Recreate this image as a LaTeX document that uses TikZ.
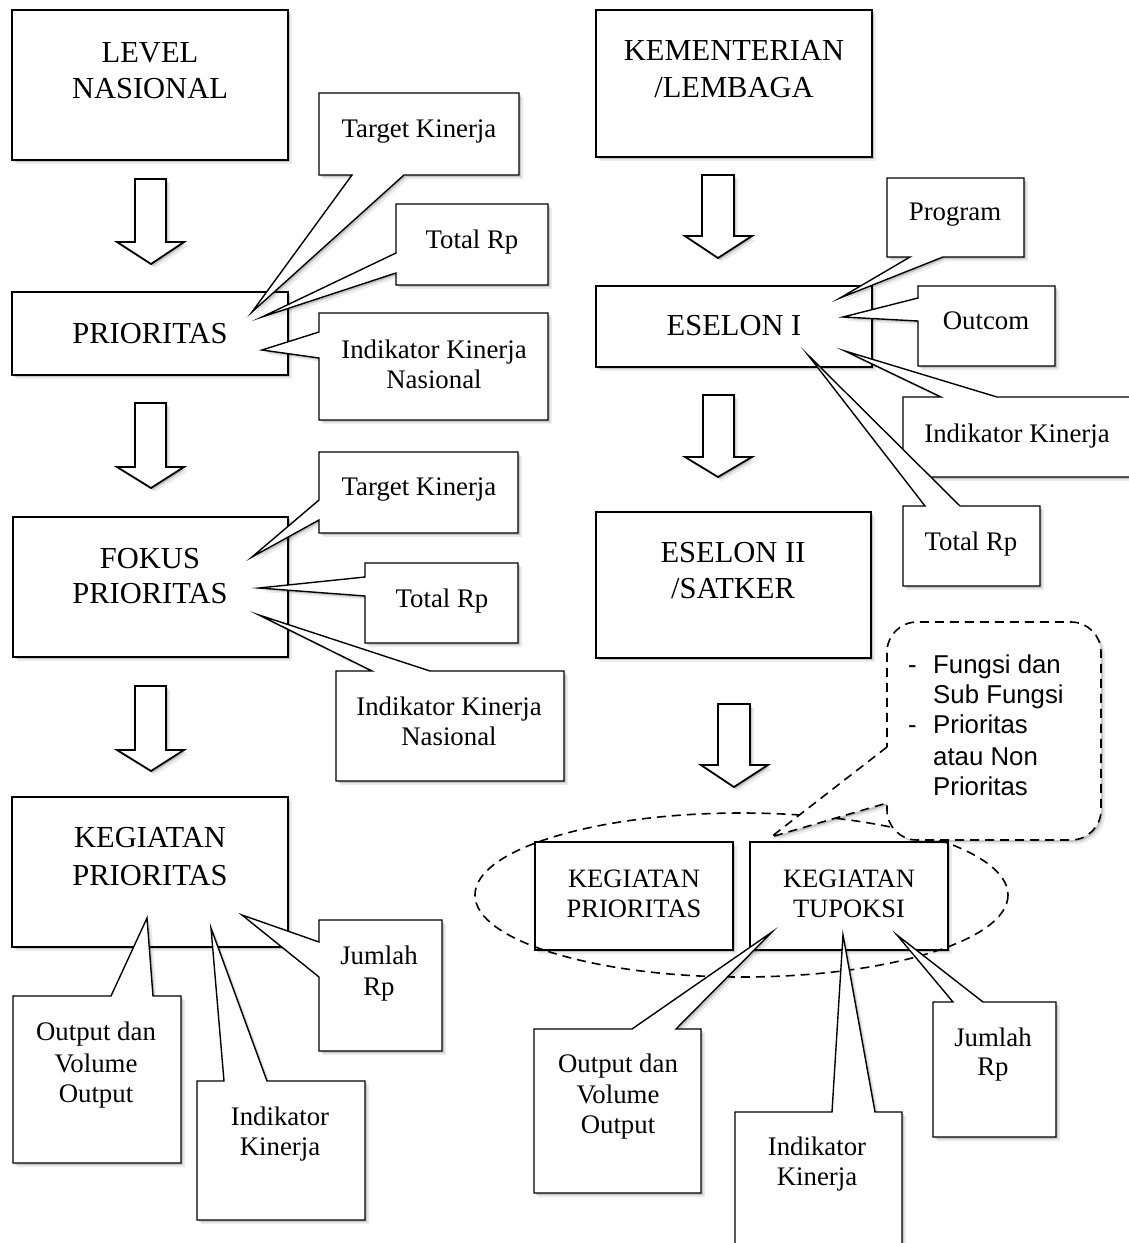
\documentclass[tikz,border=0pt]{standalone}
\usepackage{fontspec}
\setmainfont{Liberation Serif}
\newfontfamily\calsans{Liberation Sans}
\usetikzlibrary{shadows}
\newcommand{\txtline}[4]{\node[#1] (#2) at (#3) {#4};}
\begin{document}
\begin{tikzpicture}[x=1pt,y=-1pt,
  shad/.style={drop shadow={shadow xshift=4pt,shadow yshift=-4pt,opacity=0.08,fill=black},
               drop shadow={shadow xshift=2pt,shadow yshift=-2pt,opacity=0.16,fill=black}},
  mainbox/.style={draw=black,fill=white,line width=1.8pt,shad},
  callout/.style={draw=black,fill=white,line width=1.4pt,line join=miter,miter limit=20,shad},
  blockarrow/.style={draw=black,fill=white,line width=1.8pt,line join=miter,shad},
  bigtxt/.style={font=\fontsize{30.5}{36}\selectfont,inner sep=0pt,anchor=base},
  midtxt/.style={font=\fontsize{26.5}{32}\selectfont,inner sep=0pt,anchor=base},
  smalltxt/.style={font=\fontsize{26.8}{30}\selectfont,inner sep=0pt,anchor=base},
  sanstxt/.style={font=\calsans\fontsize{25.8}{30}\selectfont,inner sep=0pt,anchor=base west},
  dashbox/.style={draw=black,fill=white,line width=1.6pt,dash pattern=on 9pt off 6pt,shad},
  ell/.style={draw=black,line width=1.6pt,dash pattern=on 9pt off 6pt}
]
\path[use as bounding box] (0,0) rectangle (1129,1243);
\clip (0,0) rectangle (1129,1243);
\fill[white] (0,0) rectangle (1129,1243);

% ---------------- LEFT COLUMN ----------------
\draw[mainbox] (12,10) rectangle (288,160);
\txtline{bigtxt}{lv1}{150,62}{LEVEL}
\txtline{bigtxt}{lv2}{150,98}{NASIONAL}

\draw[blockarrow] (135,179) -- (166,179) -- (166,242) -- (184,242) -- (151,264) -- (117,242) -- (135,242) -- cycle;

\draw[mainbox] (12,292) rectangle (288,375);
\txtline{bigtxt}{pr1}{150,343}{PRIORITAS}

% callouts for PRIORITAS
\draw[callout] (319,93) -- (519,93) -- (519,175) -- (404,175) -- (252,312) -- (352,175) -- (319,175) -- cycle;
\txtline{smalltxt}{tk1}{419,137}{Target Kinerja}

\draw[callout] (396,204) -- (548,204) -- (548,285) -- (396,285) -- (396,273) -- (262,317) -- (396,253) -- cycle;
\txtline{smalltxt}{tr1}{472,248}{Total Rp}

\draw[callout] (319,313) -- (548,313) -- (548,420) -- (319,420) -- (319,358) -- (262,350) -- (319,332) -- cycle;
\txtline{smalltxt}{ikn1a}{434,358}{Indikator Kinerja}
\txtline{smalltxt}{ikn1b}{434,388}{Nasional}

\draw[blockarrow] (135,403) -- (166,403) -- (166,467) -- (184,467) -- (151,488) -- (117,467) -- (135,467) -- cycle;

\draw[mainbox] (13,517) rectangle (288,657);
\txtline{bigtxt}{fk1}{150,568}{FOKUS}
\txtline{bigtxt}{fk2}{150,603}{PRIORITAS}

\draw[callout] (319,452) -- (518,452) -- (518,533) -- (319,533) -- (319,520) -- (252,557) -- (319,500) -- cycle;
\txtline{smalltxt}{tk2}{419,495}{Target Kinerja}

\draw[callout] (365,563) -- (518,563) -- (518,643) -- (365,643) -- (365,596) -- (259,588) -- (365,577) -- cycle;
\txtline{smalltxt}{tr2}{442,607}{Total Rp}

\draw[callout] (336,671) -- (372,671) -- (259,615) -- (430,671) -- (564,671) -- (564,781) -- (336,781) -- cycle;
\txtline{smalltxt}{ikn2a}{449,715}{Indikator Kinerja}
\txtline{smalltxt}{ikn2b}{449,745}{Nasional}

\draw[blockarrow] (135,686) -- (166,686) -- (166,750) -- (184,750) -- (151,771) -- (117,750) -- (135,750) -- cycle;

\draw[mainbox] (12,797) rectangle (288,947);
\txtline{bigtxt}{kg1}{150,847}{KEGIATAN}
\txtline{bigtxt}{kg2}{150,885}{PRIORITAS}

\draw[callout] (319,920) -- (442,920) -- (442,1051) -- (319,1051) -- (319,977) -- (242,915) -- (319,942) -- cycle;
\txtline{smalltxt}{jr1a}{379,964}{Jumlah}
\txtline{smalltxt}{jr1b}{379,995}{Rp}

\draw[callout] (13,996) -- (111,996) -- (147,918) -- (153,996) -- (181,996) -- (181,1163) -- (13,1163) -- cycle;
\txtline{smalltxt}{ou1a}{96,1040}{Output dan}
\txtline{smalltxt}{ou1b}{96,1072}{Volume}
\txtline{smalltxt}{ou1c}{96,1102}{Output}

\draw[callout] (197,1081) -- (224,1081) -- (211,928) -- (267,1081) -- (365,1081) -- (365,1220) -- (197,1220) -- cycle;
\txtline{smalltxt}{ik1a}{280,1125}{Indikator}
\txtline{smalltxt}{ik1b}{280,1155}{Kinerja}

% ---------------- RIGHT COLUMN ----------------
\draw[mainbox] (596,10) rectangle (872,157);
\txtline{bigtxt}{km1}{734,60}{KEMENTERIAN}
\txtline{bigtxt}{km2}{734,97}{/LEMBAGA}

\draw[blockarrow] (702,175) -- (734,175) -- (734,236) -- (752,236) -- (718,258) -- (685,236) -- (702,236) -- cycle;

\draw[mainbox] (596,286) rectangle (872,367);
\txtline{bigtxt}{es1}{734,335}{ESELON I}

\draw[callout] (887,178) -- (1024,178) -- (1024,257) -- (943,257) -- (840,298) -- (910,257) -- (887,257) -- cycle;
\txtline{smalltxt}{prg}{955,220}{Program}

\draw[callout] (918,286) -- (1055,286) -- (1055,366) -- (918,366) -- (918,321) -- (843,317) -- (918,298) -- cycle;
\txtline{smalltxt}{otc}{986,329}{Outcom}

\draw[callout] (903,397) -- (941,397) -- (845,351) -- (997,397) -- (1140,397) -- (1140,477) -- (903,477) -- cycle;
\txtline{smalltxt}{ikr}{1017,442}{Indikator Kinerja}

\draw[callout] (903,506) -- (925,506) -- (808,355) -- (960,506) -- (1040,506) -- (1040,586) -- (903,586) -- cycle;
\txtline{smalltxt}{trr}{971,550}{Total Rp}

\draw[blockarrow] (703,395) -- (734,395) -- (734,457) -- (752,457) -- (718,477) -- (685,457) -- (703,457) -- cycle;

\draw[mainbox] (596,512) rectangle (871,658);
\txtline{bigtxt}{es2a}{733,562}{ESELON II}
\txtline{bigtxt}{es2b}{733,598}{/SATKER}

\draw[blockarrow] (718,704) -- (750,704) -- (750,765) -- (768,765) -- (734,787) -- (701,765) -- (718,765) -- cycle;

% group of activities
\draw[mainbox] (535,842) rectangle (733,950);
\txtline{midtxt}{kp2a}{634,887}{KEGIATAN}
\txtline{midtxt}{kp2b}{634,917}{PRIORITAS}

\draw[mainbox] (750,842) rectangle (948,950);
\txtline{midtxt}{kt1}{849,887}{KEGIATAN}
\txtline{midtxt}{kt2}{849,917}{TUPOKSI}

\draw[ell] (741.5,895) ellipse [x radius=266.5, y radius=82];

% dashed rounded callout
\draw[dashbox] (887,747) -- (771,837) -- (887,803) [rounded corners=30pt] -- (887,840) -- (1101,840) -- (1101,622) -- (887,622) -- (887,700) [sharp corners] -- cycle;
\node[sanstxt] (fs1d) at (908,673) {-};
\txtline{sanstxt}{fs1}{933,673}{Fungsi dan}
\txtline{sanstxt}{fs2}{933,703}{Sub Fungsi}
\node[sanstxt] (fs3d) at (908,733) {-};
\txtline{sanstxt}{fs3}{933,733}{Prioritas}
\txtline{sanstxt}{fs4}{933,765}{atau Non}
\txtline{sanstxt}{fs5}{933,795}{Prioritas}

% callouts of KEGIATAN TUPOKSI
\draw[callout] (534,1029) -- (632,1029) -- (772,932) -- (676,1029) -- (701,1029) -- (701,1193) -- (534,1193) -- cycle;
\txtline{smalltxt}{ou2a}{618,1072}{Output dan}
\txtline{smalltxt}{ou2b}{618,1103}{Volume}
\txtline{smalltxt}{ou2c}{618,1133}{Output}

\draw[callout] (735,1112) -- (832,1112) -- (843,935) -- (875,1112) -- (902,1112) -- (902,1270) -- (735,1270) -- cycle;
\txtline{smalltxt}{ik2a}{817,1155}{Indikator}
\txtline{smalltxt}{ik2b}{817,1185}{Kinerja}

\draw[callout] (933,1002) -- (953,1002) -- (897,935) -- (983,1002) -- (1056,1002) -- (1056,1137) -- (933,1137) -- cycle;
\txtline{smalltxt}{jr2a}{993,1046}{Jumlah}
\txtline{smalltxt}{jr2b}{993,1075}{Rp}
\end{tikzpicture}
\end{document}
